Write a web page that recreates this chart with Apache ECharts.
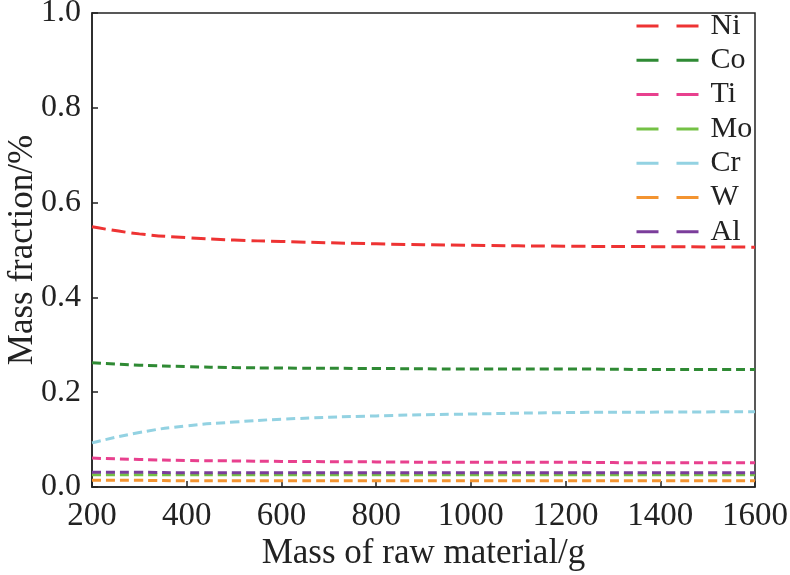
<!DOCTYPE html>
<html>
<head>
<meta charset="utf-8">
<script src="https://cdn.jsdelivr.net/npm/echarts@6/dist/echarts.min.js"></script>
<style>
  html, body { margin: 0; padding: 0; background: #fff; }
  #box { width: 790px; height: 575px; }
</style>
</head>
<body>
<div id="box"></div>
<script>
// raw material mass (g)
var mass = [200, 300, 400, 500, 600, 800, 1000, 1200, 1400, 1600]

var ni = [0.549, 0.534, 0.526, 0.521, 0.518, 0.513, 0.510, 0.508, 0.507, 0.506]
var co = [0.262, 0.257, 0.254, 0.252, 0.251, 0.250, 0.249, 0.249, 0.248, 0.248]
var ti = [0.061, 0.058, 0.056, 0.055, 0.054, 0.053, 0.052, 0.052, 0.051, 0.051]
var mo = [0.026, 0.026, 0.026, 0.026, 0.026, 0.026, 0.026, 0.026, 0.026, 0.026]
var cr = [0.093, 0.115, 0.129, 0.137, 0.143, 0.150, 0.154, 0.157, 0.158, 0.159]
var w  = [0.014, 0.014, 0.013, 0.013, 0.013, 0.013, 0.013, 0.013, 0.013, 0.013]
var al = [0.031, 0.031, 0.030, 0.030, 0.030, 0.030, 0.030, 0.030, 0.030, 0.030]

var names = ['Ni', 'Co', 'Ti', 'Mo', 'Cr', 'W', 'Al']
var values = [ni, co, ti, mo, cr, w, al]
var colors = ['#ee3333', '#2f8a34', '#e8408e', '#74c145', '#93d2e2', '#f39431', '#7b3d9b']
var dashes = [[14, 6], [9, 5], [9, 5], [9, 5], [9, 5], [9, 5], [9, 5]]

var font = '"Liberation Serif", "DejaVu Serif", serif'

function pairs(ys) {
    return mass.map(function (x, i) { return [x, ys[i]] })
}

var chart = echarts.init(document.getElementById('box'))

chart.setOption({
    animation: false,
    backgroundColor: '#fff',
    grid: {
        left: 92,
        right: 35,
        top: 13,
        bottom: 88,
        containLabel: false,
        outerBoundsMode: 'none',
        show: true,
        borderColor: '#222',
        borderWidth: 1.5,
        backgroundColor: 'transparent'
    },
    legend: {
        orient: 'vertical',
        left: 635,
        top: 11,
        padding: 0,
        itemWidth: 62,
        itemHeight: 14,
        itemGap: 4.3,
        data: names.map(function (n, i) {
            return {
                name: n,
                itemStyle: { opacity: 0 },
                lineStyle: { color: colors[i], width: 3, type: [22, 18] }
            }
        }),
        textStyle: {
            fontFamily: font, fontSize: 30, lineHeight: 30, color: '#222',
            padding: [0, 0, 0, 7]
        }
    },
    xAxis: {
        type: 'value',
        min: 200,
        max: 1600,
        interval: 200,
        name: 'Mass of raw material/g',
        nameLocation: 'middle',
        nameGap: 49,
        nameMoveOverlap: false,
        nameTextStyle: { fontFamily: font, fontSize: 35, color: '#222' },
        axisLine: { lineStyle: { color: '#222', width: 1.5 } },
        axisTick: { inside: true, length: 6, lineStyle: { color: '#222', width: 1.5 } },
        axisLabel: {
            fontFamily: font, fontSize: 33, color: '#222', margin: 13,
            formatter: function (v) { return String(v) }
        },
        splitLine: { show: false }
    },
    yAxis: {
        type: 'value',
        min: 0,
        max: 1,
        interval: 0.2,
        name: 'Mass fraction/%',
        nameLocation: 'middle',
        nameGap: 52,
        nameMoveOverlap: false,
        nameTextStyle: { fontFamily: font, fontSize: 35, color: '#222' },
        axisLine: { lineStyle: { color: '#222', width: 1.5 } },
        axisTick: { inside: true, length: 6, lineStyle: { color: '#222', width: 1.5 } },
        axisLabel: {
            fontFamily: font, fontSize: 32, color: '#222', margin: 11,
            formatter: function (v) { return v.toFixed(1) }
        },
        splitLine: { show: false }
    },
    series: names.map(function (n, i) {
        return {
            name: n,
            type: 'line',
            smooth: true,
            symbol: 'none',
            data: pairs(values[i]),
            lineStyle: { color: colors[i], width: 3, type: dashes[i] },
            itemStyle: { color: colors[i] }
        }
    })
})
</script>
</body>
</html>
